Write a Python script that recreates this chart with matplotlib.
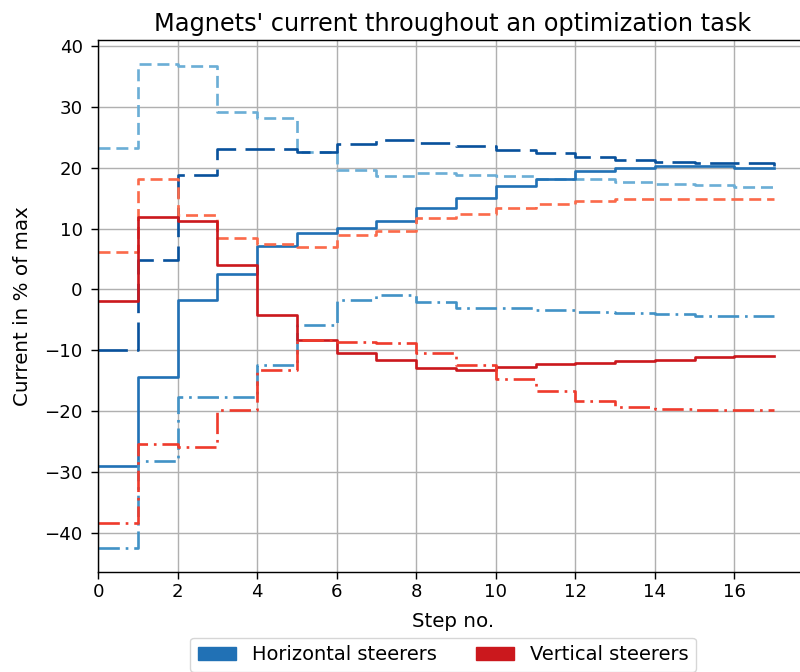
import numpy as np
import matplotlib
matplotlib.use('Agg')
import matplotlib.pyplot as plt
from matplotlib.patches import Patch

# step numbers
steps = np.arange(18)

# horizontal steerers (% of max)
h1 = [23.3, 37.1, 36.7, 29.1, 28.1, 22.6, 19.6, 18.6, 19.1, 18.8, 18.6, 18.2, 18.1, 17.6, 17.3, 17.1, 16.9, 16.9]
h2 = [-10.0, 4.9, 18.8, 23.0, 23.0, 22.6, 23.9, 24.5, 24.1, 23.6, 22.9, 22.5, 21.7, 21.2, 21.0, 20.8, 20.8, 20.2]
h3 = [-29.0, -14.4, -1.8, 2.5, 7.2, 9.3, 10.1, 11.2, 13.4, 15.0, 17.0, 18.2, 19.4, 20.0, 20.3, 20.3, 20.0, 20.0]
h4 = [-42.5, -28.3, -17.7, -17.7, -12.4, -5.8, -1.8, -1.0, -2.1, -3.0, -3.1, -3.4, -3.7, -3.9, -4.1, -4.4, -4.4, -4.4]

# vertical steerers (% of max)
v1 = [6.2, 18.2, 12.3, 8.4, 7.4, 7.0, 8.9, 9.6, 11.7, 12.4, 13.4, 14.1, 14.5, 14.8, 14.8, 14.8, 14.8, 14.8]
v2 = [-1.9, 11.9, 11.3, 4.0, -4.2, -8.4, -10.5, -11.6, -12.9, -13.2, -12.7, -12.2, -12.1, -11.8, -11.6, -11.2, -11.0, -11.0]
v3 = [-38.5, -25.5, -25.9, -19.9, -13.2, -8.4, -8.6, -8.9, -10.5, -12.4, -14.8, -16.7, -18.3, -19.4, -19.6, -19.8, -19.8, -19.8]

s = 1.28
plt.rcParams['font.size'] = 10 * s

fig = plt.figure(figsize=(8, 6.72), dpi=100)
ax = fig.add_axes([0.1225, 0.1488, 0.8875, 0.7924])

lw = 1.5 * s
dash = (0, (4.5, 2.2))
longdash = (0, (11, 3.5))
dashdot = (0, (8, 2.2, 1, 2.2))
ax.step(steps, h1, where='post', color='#6baed6', ls=dash, lw=lw)
ax.step(steps, h2, where='post', color='#08519c', ls=longdash, lw=lw)
ax.step(steps, h3, where='post', color='#2171b5', ls='-', lw=lw)
ax.step(steps, h4, where='post', color='#4292c6', ls=dashdot, lw=lw)
ax.step(steps, v1, where='post', color='#fb6a4a', ls=dash, lw=lw)
ax.step(steps, v2, where='post', color='#cb181d', ls='-', lw=lw)
ax.step(steps, v3, where='post', color='#ef3b2c', ls=dashdot, lw=lw)

ax.set_xlim(left=0)
ax.set_xticks(np.arange(0, 17, 2))
ax.set_yticks(np.arange(-40, 41, 10))
ax.grid(True, color='#b0b0b0', lw=0.8 * s)
ax.tick_params(width=0.8 * s, length=5, pad=6, labelsize=10.2 * s)
ax.tick_params(axis='x', pad=3)
for sp in ax.spines.values():
    sp.set_linewidth(0.8 * s)

ax.set_title("Magnets' current throughout an optimization task", fontsize=13.5 * s)
ax.set_xlabel('Step no.', fontsize=11.2 * s, labelpad=8)
ax.set_ylabel('Current in % of max', fontsize=11.2 * s, labelpad=9)

handles = [Patch(color='#2171b5', label='Horizontal steerers'),
           Patch(color='#cb181d', label='Vertical steerers')]
ax.legend(handles=handles, loc='upper center', bbox_to_anchor=(0.486, -0.105), ncol=2,
          fontsize=10.9 * s)

fig.savefig('out.png', dpi=100)
